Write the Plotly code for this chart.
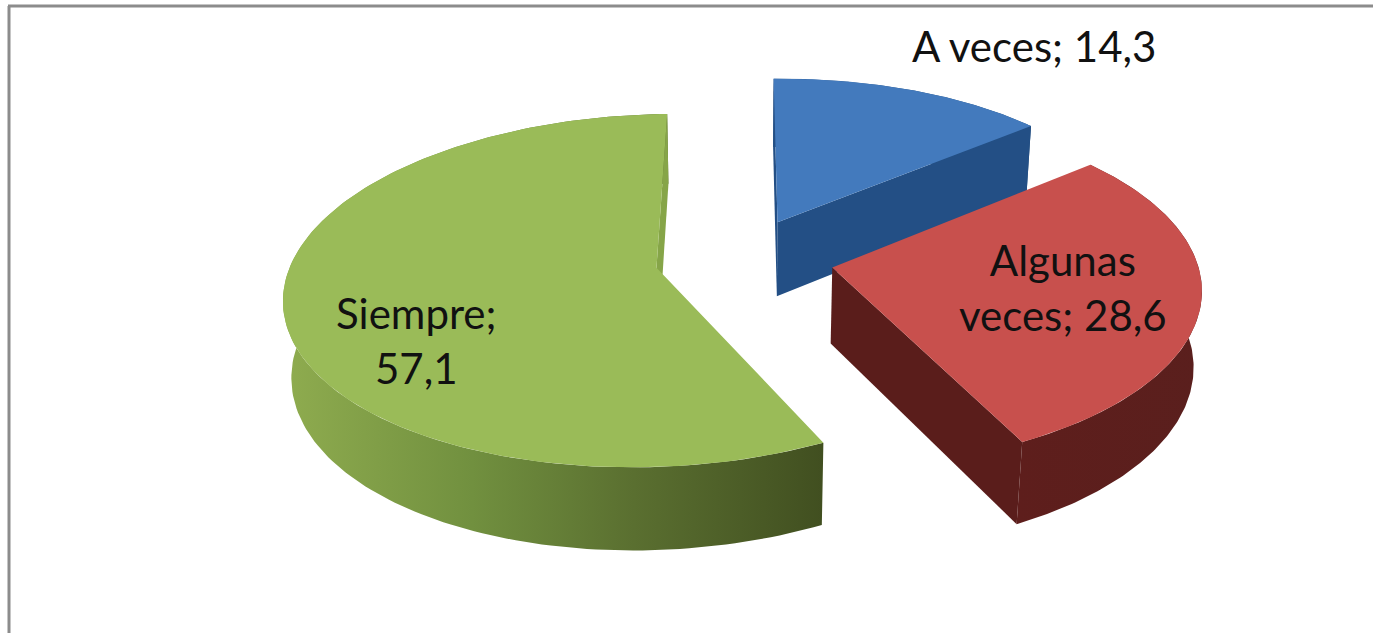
import numpy as np
import plotly.graph_objects as go

# Data
categories = ["A veces", "Algunas veces", "Siempre"]
values = [14.3, 28.6, 57.1]
label_breaks = ["A veces; {}", "Algunas<br>veces; {}", "Siempre;<br>{}"]

# Style
top_colors = ["#437ABD", "#C8504D", "#9ABB58"]
side_scales = [
    [[0, "#234F85"], [1, "#24507F"]],
    [[0, "#5E1E1C"], [1, "#5A1F1D"]],
    [[0, "#8FAC4F"], [0.35, "#71903F"], [0.65, "#5A6F30"], [1, "#414F20"]],
]
cut_colors = ["#234F85", "#5A1D1B", "#86A548"]
# which cut faces of each slice turn towards the viewer (start edge, end edge)
cut_visible = [(True, True), (False, True), (False, True)]
slice_nudge = [(0, 1), (4, 0), (7, -2)]
label_pos = [(1034, 46), (1063, 287), (416, 340)]
W, H = 1373, 633
CX, CY, RX, RY = 739, 259, 364, 171
K, M, DEPTH, EXPLODE, ROT, SHEAR = 0.129, 0.018, 77, 0.25, -1.5, 10


def project(X, Y, h, nudge):
    X, Y = np.asarray(X), np.asarray(Y)
    s = 1.0 / (1 + K * Y + M * h)
    return (CX + nudge[0] + (RX * X + SHEAR * Y) * s,
            CY + nudge[1] - RY * Y * s + DEPTH * h * s)


def add_poly(fig, x, y, color=None, scale=None):
    kw = dict(fillcolor=color) if color else dict(
        fillgradient=dict(type="horizontal", colorscale=scale))
    fig.add_trace(go.Scatter(x=list(x), y=list(y), mode="lines", fill="toself",
                             line=dict(width=0), hoverinfo="skip",
                             showlegend=False, **kw))


fig = go.Figure()
fracs = np.array(values) / sum(values)
edges = np.concatenate([[0], np.cumsum(fracs)]) * 2 * np.pi + np.radians(ROT)
for i in range(len(values)):
    a0, a1 = edges[i], edges[i + 1]
    n = slice_nudge[i]
    mid = (a0 + a1) / 2
    ox, oy = EXPLODE * np.sin(mid), EXPLODE * np.cos(mid)
    t = np.linspace(a0, a1, 160)
    ax, ay = ox + np.sin(t), oy + np.cos(t)
    tx, ty = project(ax, ay, 0, n)
    bx, by = project(ax, ay, 1, n)
    add_poly(fig, np.r_[tx, bx[::-1]], np.r_[ty, by[::-1]], scale=side_scales[i])
    px0, py0 = project(ox, oy, 0, n)
    px1, py1 = project(ox, oy, 1, n)
    if cut_visible[i][0]:
        add_poly(fig, [px0, tx[0], bx[0], px1], [py0, ty[0], by[0], py1], color=cut_colors[i])
    if cut_visible[i][1]:
        add_poly(fig, [px0, tx[-1], bx[-1], px1], [py0, ty[-1], by[-1], py1], color=cut_colors[i])
    add_poly(fig, np.r_[px0, tx], np.r_[py0, ty], color=top_colors[i])

for lab, v, (lx, ly) in zip(label_breaks, values, label_pos):
    fig.add_annotation(x=lx, y=ly, text=lab.format(str(v).replace(".", ",")),
                       showarrow=False, xanchor="center", yanchor="middle",
                       font=dict(family="Lato", size=42, color="#111111"))

frame = dict(type="line", line=dict(color="#8C8C8C", width=3))
fig.add_shape(x0=9, x1=9, y0=6, y1=H, **frame)
fig.add_shape(x0=8, x1=W, y0=6, y1=6, **frame)

fig.update_xaxes(range=[0, W], visible=False, fixedrange=True)
fig.update_yaxes(range=[H, 0], visible=False, fixedrange=True)
fig.update_layout(width=W, height=H, margin=dict(l=0, r=0, t=0, b=0),
                  paper_bgcolor="white", plot_bgcolor="white", showlegend=False)
fig.write_html("out.html", config={"displayModeBar": False},
               post_script="document.body.style.margin='0';"
                           "document.documentElement.style.overflow='hidden';")
